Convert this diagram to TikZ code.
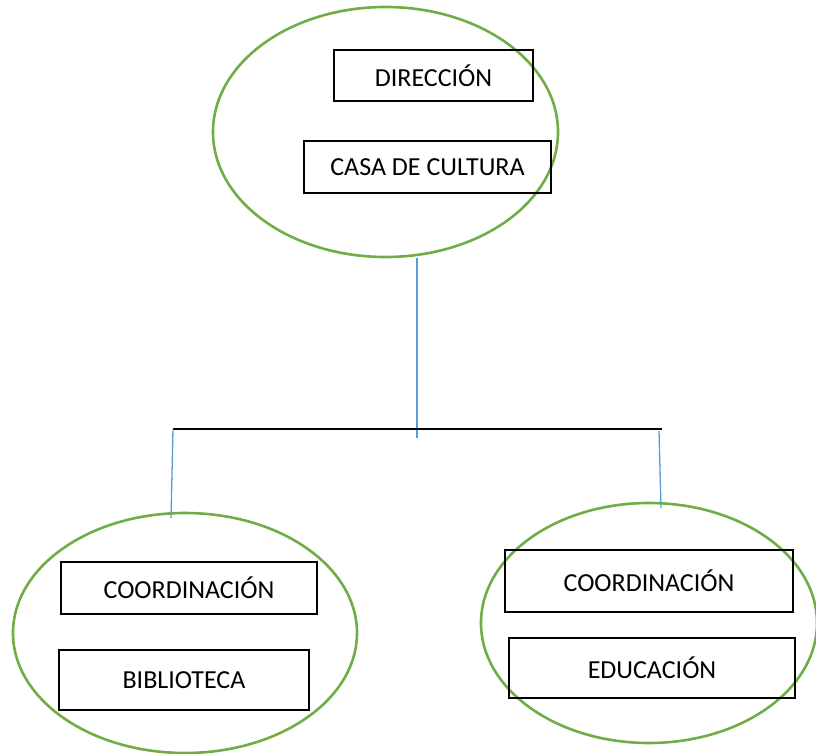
\documentclass[tikz,border=0pt]{standalone}
\usepackage{fontspec}
\setmainfont{Carlito}
\usetikzlibrary{shapes,positioning}
\definecolor{ovalgreen}{RGB}{112,173,71}
\definecolor{linkblue}{RGB}{91,155,213}

\begin{document}
\begin{tikzpicture}
      [x=1pt, y=-1pt,
      box style/.style={draw, rectangle, line width=1.3pt, inner sep=0pt, font=\fontsize{26}{30}\selectfont},
      oval style/.style={draw=ovalgreen, ellipse, line width=2.6pt, inner sep=0pt},
      link style/.style={draw=linkblue, line width=1.3pt},
      bar style/.style={draw, line width=2pt},
      ]
      \useasboundingbox (0,0) rectangle (816,754);

      \node[oval style, minimum width=345pt, minimum height=250pt] (direccion) at (385.5,132) {};
      \node[box style, minimum width=199pt, minimum height=51pt] (dir) at (433.5,75.5) {DIRECCIÓN};
      \node[box style, minimum width=247pt, minimum height=52pt] (casa) at (427.5,167) {CASA DE CULTURA};

      \node[oval style, minimum width=344pt, minimum height=240pt] (biblio) at (185,633) {};
      \node[box style, minimum width=256pt, minimum height=52pt] (coordL) at (189,588) {COORDINACIÓN};
      \node[box style, minimum width=250pt, minimum height=60pt] (bib) at (184,680) {BIBLIOTECA};

      \node[oval style, minimum width=336pt, minimum height=240pt] (educa) at (649,623) {};
      \node[box style, minimum width=288pt, minimum height=62pt] (coordR) at (649,581) {COORDINACIÓN};
      \node[box style, minimum width=286pt, minimum height=60pt] (edu) at (652,668) {EDUCACIÓN};

      \coordinate (hub) at (417,438);
      \coordinate (barL) at (173,429);
      \coordinate (barR) at (662,429);
      \coordinate (dropL) at (171,518);
      \coordinate (topR) at (659,431);
      \coordinate (dropR) at (661,508);

      \draw[link style] (hub |- direccion.south) -- (hub);
      \draw[bar style] (barL) -- (barR);
      \draw[link style] (barL) -- (dropL);
      \draw[link style] (topR) -- (dropR);
\end{tikzpicture}
\end{document}
